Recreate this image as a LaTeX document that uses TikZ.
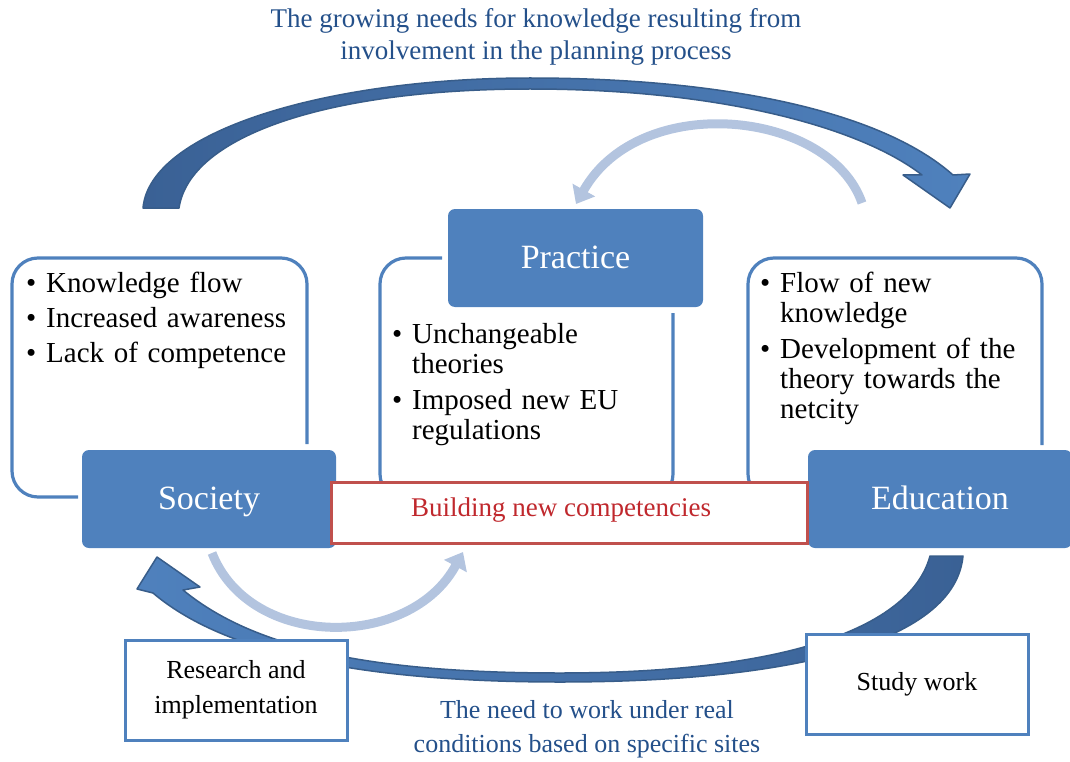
\documentclass[tikz,border=0pt]{standalone}
\usepackage{fontspec}
\setmainfont{Liberation Serif}
\usetikzlibrary{arrows.meta}
\definecolor{boxblue}{HTML}{4F81BD}
\definecolor{topL}{HTML}{3A6195}
\definecolor{topR}{HTML}{4F81BD}
\definecolor{arrowedge}{HTML}{385D8A}
\definecolor{lightarrow}{HTML}{B3C4DF}
\definecolor{titleblue}{HTML}{24508A}
\definecolor{redline}{HTML}{C0504D}
\definecolor{redtext}{HTML}{C0282D}
\newcommand\blt[1]{\hangindent=20pt\hangafter=1\noindent\makebox[20pt][l]{\textbullet}#1\par}
\begin{document}
\begin{tikzpicture}[x=1pt,y=-1pt,
  blk/.style={fill=boxblue, rounded corners=7, text=white, font=\fontsize{34}{40}\selectfont, inner sep=0, text height=25pt, text depth=5pt},
  frame/.style={draw=boxblue, line width=3.2pt, rounded corners=26},
  wbox/.style={draw=boxblue, line width=3pt, fill=white, font=\fontsize{26}{35}\selectfont, align=center, inner sep=0, minimum width=222pt, minimum height=100pt},
  blist/.style={anchor=base west, text width=285pt, align=left, inner sep=0, font=\fontsize{29}{30}\selectfont},
  lbl/.style={text=titleblue, align=center, inner sep=0, font=\fontsize{27}{32}\selectfont},
  larrow/.style={draw=lightarrow, line width=9pt, -{Triangle[width=25pt,length=16pt]}},
  bigarrow/.style={draw=arrowedge, line width=1.5pt, line join=round},
  ]
\useasboundingbox (0,0) rectangle (1070,762);

% arrow end points
\coordinate (tA) at (143,208);
\coordinate (tB) at (950,208);
\coordinate (bA) at (963,556);
\coordinate (bB) at (157,557);

% big top arrow
\path[bigarrow, left color=topL, right color=topR]
  (tA) .. controls (150,130) and (330,78) .. (530,78)
  .. controls (720,78) and (880,110) .. (953,175)
  -- (970,174) -- (tB) -- (903,175) -- (922,175)
  .. controls (860,127) and (720,89) .. (530,89)
  .. controls (330,89) and (190,135) .. (179,208) -- cycle;

% big bottom arrow
\path[bigarrow, left color=topR, right color=topL]
  (bA) .. controls (955,640) and (800,682) .. (560,682)
  .. controls (350,682) and (220,650) .. (153,593)
  -- (137,589) -- (bB) -- (200,587) -- (183,590)
  .. controls (250,645) and (360,673) .. (560,673)
  .. controls (780,673) and (910,630) .. (930,556) -- cycle;

% light arrows
\coordinate (lt1) at (862,203);
\coordinate (lt2) at (576,204);
\draw[larrow] (lt1) .. controls (830,110) and (640,90) .. (lt2);
\coordinate (lb1) at (212,553);
\coordinate (lb2) at (463,552);
\draw[larrow] (lb1) .. controls (250,650) and (410,650) .. (lb2);

% frames
\draw[frame] (78,497) -- (12,497) -- (12,258) -- (307,258) -- (307,444);
\draw[frame] (442,258) -- (380,258) -- (380,500) -- (673,500) -- (673,313);
\draw[frame] (1042,445) -- (1042,258) -- (748,258) -- (748,500) -- (806,500);

% bullet lists
\node[blist] (lsoc) at (26,292) {\setlength\parskip{5pt}\blt{Knowledge flow}\blt{Increased awareness}\blt{Lack of competence}};
\node[blist] (lprac) at (392,343) {\setlength\parskip{6pt}\blt{Unchangeable\newline theories}\blt{Imposed new EU\newline regulations}};
\node[blist] (ledu) at (760,292) {\setlength\parskip{6pt}\blt{Flow of new\newline knowledge}\blt{Development of the\newline theory towards the\newline netcity}};

% blue boxes
\node[blk, minimum width=254pt, minimum height=98pt] (soc) at (209,499) {Society};
\node[blk, minimum width=255pt, minimum height=98pt] (prac) at (575.5,258) {Practice};
\node[blk, minimum width=264pt, minimum height=98pt] (edu) at (940,499) {Education};

% red box
\node[draw=redline, line width=3pt, fill=white, minimum width=476pt, minimum height=61pt, inner sep=0] (build) at (569,512.5) {};
\node[text=redtext, inner sep=0, font=\fontsize{27}{32}\selectfont] (buildtxt) at (561,510) {Building new competencies};

% white boxes
\node[wbox] (res) at (236,690) {Research and\\implementation};
\node[wbox] (study) at (917,684) {Study work};

% labels
\node[lbl] (toptxt) at (536,37) {The growing needs for knowledge resulting from\\involvement in the planning process};
\node[lbl, font=\fontsize{26}{34}\selectfont] (bottxt) at (587,729) {The need to work under real\\conditions based on specific sites};
\end{tikzpicture}
\end{document}
